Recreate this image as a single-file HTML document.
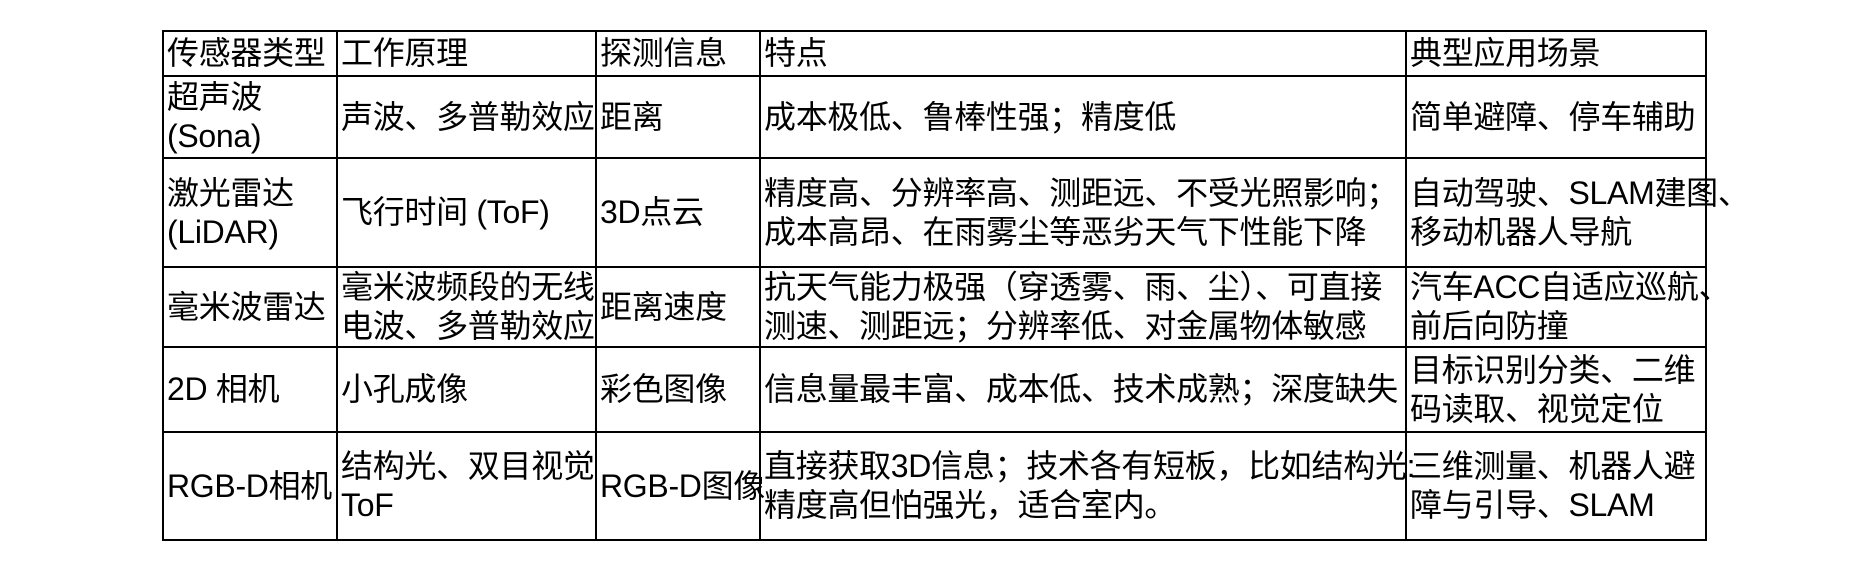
<!DOCTYPE html>
<html><head><meta charset="utf-8"><style>
html,body{margin:0;padding:0;background:#fff;width:1854px;height:561px;overflow:hidden}
table{position:absolute;left:162px;top:30px;width:1543px;border-collapse:collapse;table-layout:fixed;
font-family:"Liberation Sans","Noto Sans CJK SC",sans-serif;font-size:32px;line-height:39px;color:#000}
td{border:2px solid #000;padding:0 0 0 3px;vertical-align:middle;white-space:nowrap;overflow:visible;letter-spacing:-0.3px}
</style></head><body>
<table>
<colgroup><col style="width:174px"><col style="width:259px"><col style="width:164px"><col style="width:646px"><col style="width:300px"></colgroup>
<tr style="height:45px"><td>传感器类型</td><td>工作原理</td><td>探测信息</td><td>特点</td><td>典型应用场景</td></tr>
<tr style="height:82px"><td>超声波<br>(Sona)</td><td>声波、多普勒效应</td><td>距离</td><td>成本极低、鲁棒性强；精度低</td><td>简单避障、停车辅助</td></tr>
<tr style="height:109px"><td>激光雷达<br>(LiDAR)</td><td>飞行时间 (ToF)</td><td>3D点云</td><td>精度高、分辨率高、测距远、不受光照影响；<br>成本高昂、在雨雾尘等恶劣天气下性能下降</td><td>自动驾驶、SLAM建图、<br>移动机器人导航</td></tr>
<tr style="height:79px"><td>毫米波雷达</td><td>毫米波频段的无线<br>电波、多普勒效应</td><td>距离速度</td><td>抗天气能力极强（穿透雾、雨、尘）、可直接<br>测速、测距远；分辨率低、对金属物体敏感</td><td>汽车ACC自适应巡航、<br>前后向防撞</td></tr>
<tr style="height:85px"><td>2D 相机</td><td>小孔成像</td><td>彩色图像</td><td>信息量最丰富、成本低、技术成熟；深度缺失</td><td>目标识别分类、二维<br>码读取、视觉定位</td></tr>
<tr style="height:108px"><td>RGB-D相机</td><td>结构光、双目视觉<br>ToF</td><td>RGB-D图像</td><td>直接获取3D信息；技术各有短板，比如结构光:<br>精度高但怕强光，适合室内。</td><td>三维测量、机器人避<br>障与引导、SLAM</td></tr>
</table>
</body></html>
